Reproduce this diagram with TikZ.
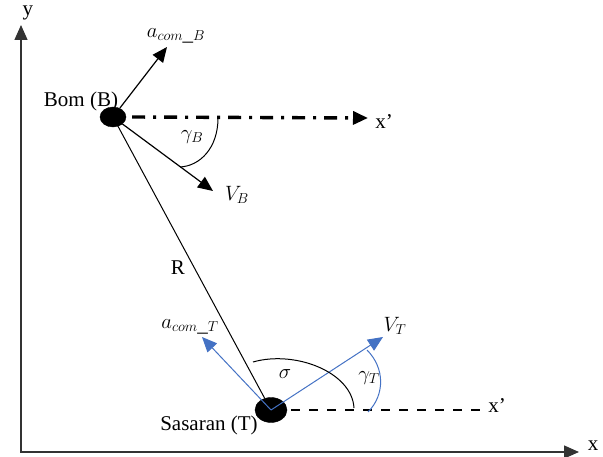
\documentclass[tikz,border=0pt]{standalone}
\usepackage{fontspec}
\setmainfont{Liberation Serif}
\usetikzlibrary{arrows.meta,shapes.geometric}
\definecolor{VecBlue}{HTML}{4472C4}
\tikzset{
  bigtip/.style={-{Triangle[length=15pt,width=13pt]}},
  lbl/.style={inner sep=0pt},
}

\begin{document}
\begin{tikzpicture}[x=1pt, y=-1pt, font=\fontsize{21}{25}\selectfont]
  \useasboundingbox (0,0) rectangle (603,457);

  % axes
  \coordinate (origin) at (21,452);
  \coordinate (ytip) at (21,25);
  \coordinate (xtip) at (579,452);
  \draw [bigtip, line width=1.4pt, black!80] (origin) -- (ytip);
  \draw [bigtip, line width=1.4pt, black!80] ([xshift=-0.7pt]origin) -- (xtip);
  \node [lbl] (ylab) at (28,13) {y};
  \node [lbl] (xlab) at (593,446) {x};

  % bomb and target
  \node [draw, fill=black, ellipse, minimum width=26pt, minimum height=20pt, inner sep=0pt] (bom) at (113,117) {};
  \node [draw, fill=black, ellipse, minimum width=32pt, minimum height=25pt, inner sep=0pt] (target) at (271,410) {};
  \node [lbl] (bomlab) at (81,101) {Bom (B)};
  \node [lbl] (targetlab) at (209,425) {Sasaran (T)};

  % line of sight
  \draw [line width=1pt] (bom) -- node [lbl, pos=0.52, left=9pt] {R} (target);

  % reference lines x'
  \coordinate (xbtip) at (368,118);
  \draw [bigtip, line width=3.4pt, dash pattern=on 13pt off 8pt on 3pt off 8pt] (bom.east) ++(6pt,0) -- (xbtip);
  \node [lbl] (xblab) at (384,122) {x’};
  \coordinate (xtend) at (488,410);
  \draw [line width=2.6pt, dash pattern=on 9pt off 9pt] ([xshift=4pt]target.east) -- (xtend);
  \node [lbl] (xtlab) at (497,406) {x’};

  % bomb vectors
  \coordinate (acomb) at (167,47);
  \coordinate (vb) at (213,191);
  \draw [bigtip, line width=1.2pt] (bom) -- (acomb);
  \draw [bigtip, line width=1.2pt] (bom) -- (vb);
  \node [lbl] (acomblab) at (176,36) {$a_{com\_B}$};
  \node [lbl] (vblab) at (237,195) {$V_B$};
  \draw [line width=1pt] (218,118) .. controls (218,148) and (200,166) .. (180,167);
  \node [lbl] (gammablab) at (192,137) {$\gamma_B$};

  % target vectors
  \coordinate (acomt) at (202,337);
  \coordinate (vt) at (383,337);
  \draw [bigtip, line width=1pt, VecBlue] (target.center) -- (acomt);
  \draw [bigtip, line width=1pt, VecBlue] (target.center) -- (vt);
  \node [lbl] (acomtlab) at (190,327) {$a_{com\_T}$};
  \node [lbl] (vtlab) at (395,326) {$V_T$};
  \draw [line width=1pt] (253,362) .. controls (295,350) and (352,372) .. (354,408);
  \node [lbl] (sigmalab) at (285,374) {$\sigma$};
  \draw [line width=1pt, VecBlue] (367,350) .. controls (385,368) and (385,395) .. (368,412);
  \node [lbl] (gammatlab) at (369,378) {$\gamma_T$};
\end{tikzpicture}
\end{document}
